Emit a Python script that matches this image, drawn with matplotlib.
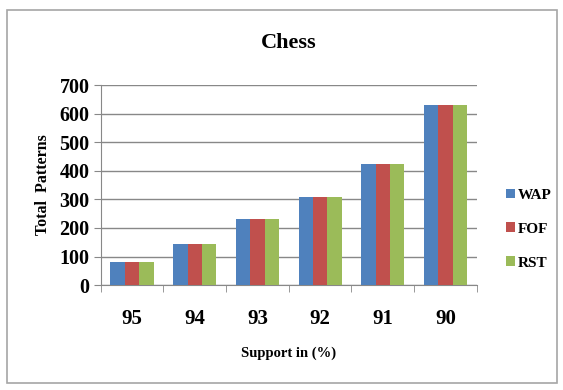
import matplotlib
matplotlib.use('Agg')
import matplotlib.pyplot as plt
from matplotlib.patches import Rectangle
import numpy as np

# data
support = ['95', '94', '93', '92', '91', '90']
wap = [81, 144, 230, 308, 425, 630]
fof = [81, 144, 230, 308, 425, 630]
rst = [81, 144, 230, 308, 425, 630]
series = ['WAP', 'FOF', 'RST']
colors = ['#4F81BD', '#C0504D', '#9BBB59']

plt.rcParams['font.family'] = ['Liberation Serif', 'DejaVu Serif']
plt.rcParams['font.weight'] = 'bold'

fig = plt.figure(figsize=(5.63, 3.9), dpi=100)
ax = fig.add_axes([0.179, 0.269, 0.668, 0.513])

# outer frame like the pasted chart
fig.patches.append(Rectangle((0.012, 0.018), 0.978, 0.957, transform=fig.transFigure,
                             fill=False, edgecolor='#a6a6a6', linewidth=1.2))

x = np.arange(len(support))
w = 0.23
for i, (vals, name) in enumerate(zip([wap, fof, rst], series)):
    ax.bar(x + (i - 1) * w, vals, width=w, color=colors[i], label=name, zorder=3)

ax.set_xlim(-0.5, len(support) - 0.5)
ax.set_ylim(0, 700)
ax.set_yticks(range(0, 701, 100))
ax.set_xticks(x)
ax.set_xticklabels(support, fontsize=15, fontweight='bold')
ax.set_xticks(np.arange(-0.5, len(support), 1), minor=True)
ax.tick_params(axis='x', which='major', length=0, pad=17)
ax.tick_params(axis='x', which='minor', length=5, color='#888888')
ax.tick_params(axis='y', length=5, color='#888888', labelsize=14.5, pad=3)
for lbl in ax.get_yticklabels():
    lbl.set_fontweight('bold')

ax.grid(axis='y', color='#888888', linewidth=1, zorder=0)
for s in ['top', 'right']:
    ax.spines[s].set_visible(False)
ax.spines['left'].set_color('#888888')
ax.spines['bottom'].set_color('#888888')

ax.set_title('Chess', fontsize=16, fontweight='bold', pad=27)
ax.set_ylabel('Total  Patterns', fontsize=11.5, fontweight='bold', labelpad=6)
ax.set_xlabel('Support in (%)', fontsize=10.5, fontweight='bold', labelpad=13)

leg = ax.legend(loc='center left', bbox_to_anchor=(1.04, 0.28), frameon=False,
                fontsize=11, handlelength=0.6, handleheight=0.6, handletextpad=0.2,
                labelspacing=1.35)
for t in leg.get_texts():
    t.set_fontweight('bold')

fig.savefig('out.png', dpi=100)
